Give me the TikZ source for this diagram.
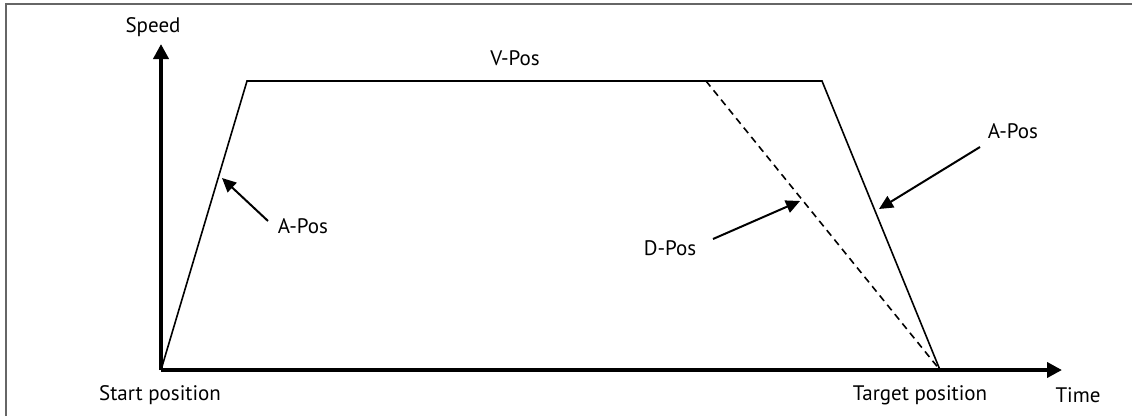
\documentclass[tikz,border=0pt]{standalone}
\usepackage{fontspec}
\setmainfont{PT Sans}
\usetikzlibrary{arrows.meta, positioning}

\begin{document}
\begin{tikzpicture}[x=1pt, y=-1pt, font=\fontsize{21}{23}\selectfont,
    axis/.style={line width=4pt, -{Triangle[length=15pt, width=15pt]}},
    profile/.style={line width=1.6pt, line join=miter},
    pointer/.style={line width=2pt, -{Triangle[length=14pt, width=13pt]}},
    lbl/.style={inner sep=0pt}]
\useasboundingbox (0,0) rectangle (1132,416);
\draw[gray!80!black, line width=1.5pt] (6,416) -- (6,4) -- (1132,4);
% axes
\coordinate (o) at (161,370);
\coordinate (ytop) at (161,44);
\coordinate (xend) at (1062,370);
\draw[axis] (o) -- (ytop);
\draw[axis] (o) -- (xend);
% speed profile
\coordinate (acc) at (247,81);
\coordinate (dec) at (822,81);
\coordinate (brk) at (706,81);
\coordinate (target) at (940,370);
\draw[profile] (o) -- (acc) -- (dec) -- (target);
\draw[profile, dashed, dash pattern=on 7pt off 5pt] (brk) -- (target);
% labels
\node[lbl] (speed) at (153,27) {Speed};
\node[lbl] (start) at (160,395) {Start position};
\node[lbl] (tpos) at (920,395) {Target position};
\node[lbl] (time) at (1078,395) {Time};
\node[lbl] (vpos) at (515,58) {V-Pos};
\node[lbl] (apos1) at (303,226) {A-Pos};
\node[lbl] (apos2) at (1013,131) {A-Pos};
\node[lbl] (dpos) at (670,248) {D-Pos};
% pointers
\coordinate (a1from) at (268,221);
\coordinate (a1) at (222,178);
\coordinate (a2from) at (980,147);
\coordinate (a2) at (879,209);
\coordinate (d1from) at (713,239);
\coordinate (d1) at (800,201);
\draw[pointer] (a1from) -- (a1);
\draw[pointer] (a2from) -- (a2);
\draw[pointer] (d1from) -- (d1);
\end{tikzpicture}
\end{document}
